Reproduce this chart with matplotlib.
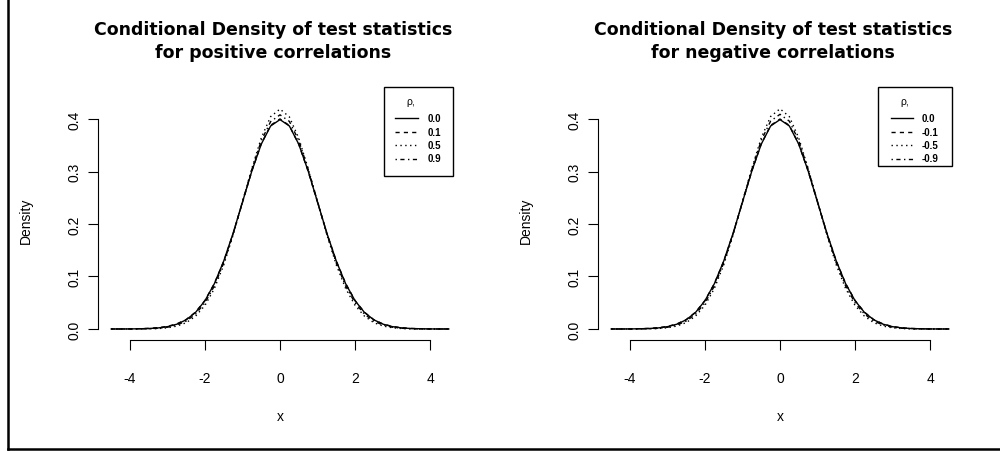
import matplotlib
matplotlib.use("Agg")
import matplotlib.pyplot as plt
from matplotlib.lines import Line2D
from matplotlib.patches import Rectangle

plt.rcParams['font.family'] = ['Liberation Sans', 'DejaVu Sans']

# ---- data ----
x_grid = [-4.5, -4.25, -4.0, -3.75, -3.5, -3.25, -3.0, -2.75, -2.5, -2.25, -2.0,
          -1.75, -1.5, -1.25, -1.0, -0.75, -0.5, -0.25, 0.0, 0.25, 0.5, 0.75, 1.0,
          1.25, 1.5, 1.75, 2.0, 2.25, 2.5, 2.75, 3.0, 3.25, 3.5, 3.75, 4.0, 4.25, 4.5]

# left panel: positive correlations
pos_rho_00 = [0.0000, 0.0000, 0.0001, 0.0004, 0.0009, 0.0020, 0.0044, 0.0091, 0.0175, 0.0317, 0.0540,
              0.0863, 0.1295, 0.1826, 0.2420, 0.3011, 0.3521, 0.3867, 0.3989, 0.3867, 0.3521, 0.3011, 0.2420,
              0.1826, 0.1295, 0.0863, 0.0540, 0.0317, 0.0175, 0.0091, 0.0044, 0.0020, 0.0009, 0.0004, 0.0001, 0.0000, 0.0000]
pos_rho_01 = [0.0000, 0.0000, 0.0002, 0.0005, 0.0012, 0.0025, 0.0050, 0.0098, 0.0182, 0.0322, 0.0545,
              0.0866, 0.1290, 0.1815, 0.2412, 0.3010, 0.3528, 0.3880, 0.4002, 0.3875, 0.3518, 0.3005, 0.2415,
              0.1820, 0.1298, 0.0868, 0.0543, 0.0320, 0.0178, 0.0094, 0.0048, 0.0023, 0.0010, 0.0004, 0.0001, 0.0000, 0.0000]
pos_rho_05 = [0.0000, 0.0000, 0.0000, 0.0001, 0.0003, 0.0008, 0.0022, 0.0055, 0.0120, 0.0245, 0.0450,
              0.0770, 0.1220, 0.1790, 0.2425, 0.3060, 0.3640, 0.4045, 0.4190, 0.4040, 0.3635, 0.3058, 0.2428,
              0.1795, 0.1222, 0.0772, 0.0452, 0.0246, 0.0121, 0.0056, 0.0023, 0.0008, 0.0003, 0.0001, 0.0000, 0.0000, 0.0000]
pos_rho_09 = [0.0000, 0.0000, 0.0000, 0.0002, 0.0005, 0.0014, 0.0034, 0.0075, 0.0150, 0.0285, 0.0500,
              0.0820, 0.1260, 0.1810, 0.2425, 0.3040, 0.3585, 0.3950, 0.4080, 0.3955, 0.3590, 0.3045, 0.2428,
              0.1812, 0.1258, 0.0818, 0.0498, 0.0284, 0.0150, 0.0074, 0.0033, 0.0013, 0.0005, 0.0002, 0.0000, 0.0000, 0.0000]

# right panel: negative correlations
neg_rho_00 = pos_rho_00
neg_rho_m01 = [0.0000, 0.0000, 0.0001, 0.0005, 0.0011, 0.0024, 0.0049, 0.0096, 0.0180, 0.0320, 0.0543,
               0.0864, 0.1292, 0.1818, 0.2415, 0.3012, 0.3525, 0.3878, 0.4000, 0.3878, 0.3522, 0.3008, 0.2418,
               0.1822, 0.1296, 0.0866, 0.0544, 0.0321, 0.0179, 0.0095, 0.0047, 0.0022, 0.0010, 0.0004, 0.0001, 0.0000, 0.0000]
neg_rho_m05 = [0.0000, 0.0000, 0.0000, 0.0001, 0.0003, 0.0009, 0.0023, 0.0056, 0.0122, 0.0247, 0.0452,
               0.0772, 0.1222, 0.1792, 0.2428, 0.3062, 0.3642, 0.4048, 0.4195, 0.4045, 0.3638, 0.3060, 0.2425,
               0.1792, 0.1220, 0.0770, 0.0450, 0.0245, 0.0120, 0.0055, 0.0022, 0.0008, 0.0003, 0.0001, 0.0000, 0.0000, 0.0000]
neg_rho_m09 = [0.0000, 0.0000, 0.0000, 0.0002, 0.0005, 0.0013, 0.0033, 0.0074, 0.0150, 0.0284, 0.0498,
               0.0818, 0.1258, 0.1810, 0.2428, 0.3045, 0.3592, 0.3960, 0.4090, 0.3958, 0.3588, 0.3042, 0.2426,
               0.1810, 0.1259, 0.0819, 0.0499, 0.0285, 0.0151, 0.0075, 0.0034, 0.0014, 0.0005, 0.0002, 0.0000, 0.0000, 0.0000]

pos_labels = ["0.0", "0.1", "0.5", "0.9"]
neg_labels = ["0.0", "-0.1", "-0.5", "-0.9"]
legend_title = "ρ,"
titles = ["Conditional Density of test statistics\nfor positive correlations",
          "Conditional Density of test statistics\nfor negative correlations"]
x_ticks = [-4, -2, 0, 2, 4]
y_ticks = [0.0, 0.1, 0.2, 0.3, 0.4]
y_ticklabels = ["0.0", "0.1", "0.2", "0.3", "0.4"]

# ---- styles ----
styles = ['-', (0, (3, 3)), (0, (1, 2.5)), (0, (1, 2.5, 3, 2.5))]

fig = plt.figure(figsize=(10, 4.52), dpi=100)
W, H = 1000, 452


def fx(px):
    return px / W


def fy(py):
    return (H - py) / H


def make_ax(left_px):
    ax_left, ax_right = left_px, left_px + 364
    ax_top, ax_bot = 100.6, 341
    return fig.add_axes([fx(ax_left), fy(ax_bot), (ax_right - ax_left) / W, (ax_bot - ax_top) / H])


def draw_legend(labels, box, line_x, text_x, title_x, title_y, row_ys):
    x0, y0, x1, y1 = box
    fig.add_artist(Rectangle((fx(x0), fy(y1)), (x1 - x0) / W, (y1 - y0) / H,
                             transform=fig.transFigure, fill=False, edgecolor='black', lw=1.0))
    fig.text(fx(title_x), fy(title_y), legend_title, ha='center', va='center', fontsize=7.5)
    for ls, lab, ry in zip(styles, labels, row_ys):
        fig.add_artist(Line2D([fx(line_x[0]), fx(line_x[1])], [fy(ry), fy(ry)],
                              transform=fig.transFigure, color='black', lw=1.0,
                              linestyle=ls))
        fig.text(fx(text_x), fy(ry), lab, ha='left', va='center', fontsize=7, fontweight='bold')


panels = [
    (98, [pos_rho_00, pos_rho_01, pos_rho_05, pos_rho_09], pos_labels, titles[0],
     (384, 88, 453, 177), (395, 418), 428, 411, 102),
    (598, [neg_rho_00, neg_rho_m01, neg_rho_m05, neg_rho_m09], neg_labels, titles[1],
     (878, 88, 952, 167), (891, 913), 922, 905, 102),
]
row_ys = [119, 132.5, 146, 159.5]

for left_px, series, labels, title, box, line_x, text_x, title_x, title_y in panels:
    ax = make_ax(left_px)
    for ys, ls in zip(series, styles):
        ax.plot(x_grid, ys, color='black', lw=1.0, linestyle=ls)
    ax.set_xlim(-4.853, 4.853)
    ax.set_ylim(-0.021, 0.437)
    for s in ['top', 'right']:
        ax.spines[s].set_visible(False)
    ax.spines['left'].set_bounds(0.0, 0.4)
    ax.spines['bottom'].set_bounds(-4, 4)
    for s in ['left', 'bottom']:
        ax.spines[s].set_linewidth(0.8)
    ax.set_xticks(x_ticks)
    ax.set_xticklabels([str(t) for t in x_ticks], fontsize=10)
    ax.set_yticks(y_ticks)
    ax.set_yticklabels(y_ticklabels, fontsize=10, rotation=90, va='center')
    ax.tick_params(axis='x', direction='out', length=7.2, width=0.8, pad=15)
    ax.tick_params(axis='y', direction='out', length=7.2, width=0.8, pad=5)
    ax.text(-0.198, 0.5, 'Density', rotation=90, ha='center', va='center',
            fontsize=10, transform=ax.transAxes)
    ax.text(0.5, -0.316, 'x', ha='center', va='center', fontsize=10, transform=ax.transAxes)
    fig.text(fx(left_px + 175), fy(41.5), title, ha='center', va='center', fontsize=12.5,
             fontweight='bold', family='DejaVu Sans', linespacing=1.4)
    draw_legend(labels, box, line_x, text_x, title_x, title_y, row_ys)

# figure border (left and bottom)
fig.add_artist(Line2D([fx(7.5), fx(7.5)], [fy(449.5), 1.0], color='black', lw=1.8, transform=fig.transFigure))
fig.add_artist(Line2D([fx(7.5), 1.0], [fy(449.5), fy(449.5)], color='black', lw=1.8, transform=fig.transFigure))

fig.savefig('out.png', dpi=100, facecolor='white')
